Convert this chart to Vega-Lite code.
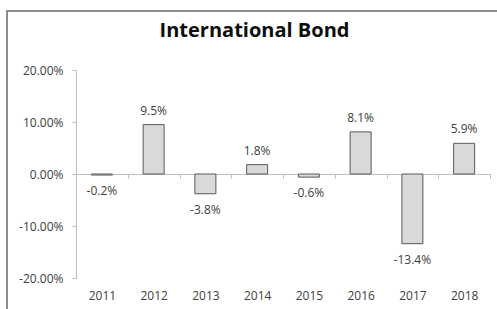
{
  "$schema": "https://vega.github.io/schema/vega-lite/v6.json",
  "autosize": {"type": "none"},
  "padding": {"left": 7, "top": 11, "right": 0, "bottom": 0},
  "width": 495,
  "height": 305,
  "background": "white",
  "config": {
    "view": {"stroke": "#8c8c8c", "strokeWidth": 2},
    "font": "Open Sans",
    "locale": {
      "number": {"decimal": ".", "thousands": ",", "grouping": [3], "currency": ["$", ""], "minus": "-"}
    }
  },
  "title": {
    "text": "International Bond",
    "font": "Open Sans",
    "fontSize": 20,
    "fontWeight": "bold",
    "color": "#0d0d0d",
    "anchor": "middle",
    "baseline": "alphabetic",
    "offset": -46
  },
  "data": {
    "values": [
      {"year": "2011", "v": -0.002},
      {"year": "2012", "v": 0.095},
      {"year": "2013", "v": -0.038},
      {"year": "2014", "v": 0.018},
      {"year": "2015", "v": -0.006},
      {"year": "2016", "v": 0.081},
      {"year": "2017", "v": -0.134},
      {"year": "2018", "v": 0.059}
    ]
  },
  "encoding": {
    "x": {
      "field": "year",
      "type": "nominal",
      "sort": null,
      "scale": {"type": "band", "range": [69, 483], "paddingInner": 0, "paddingOuter": 0},
      "axis": {
        "title": null,
        "orient": "bottom",
        "offset": -142,
        "domainColor": "#bfbfbf",
        "tickColor": "#bfbfbf",
        "tickSize": 4,
        "tickBand": "extent",
        "labelAngle": 0,
        "labelFont": "Open Sans",
        "labelFontSize": 12,
        "labelColor": "#404040",
        "labelPadding": 112,
        "grid": false
      }
    },
    "y": {
      "field": "v",
      "type": "quantitative",
      "scale": {"domain": [-0.2, 0.2], "range": [267, 59], "nice": false},
      "axis": {
        "title": null,
        "orient": "left",
        "offset": -69,
        "values": [-0.2, -0.1, 0, 0.1, 0.2],
        "format": ".2%",
        "grid": false,
        "domainColor": "#bfbfbf",
        "tickColor": "#bfbfbf",
        "tickSize": 4,
        "labelFont": "Open Sans",
        "labelFontSize": 12,
        "labelColor": "#404040",
        "labelPadding": 9
      }
    }
  },
  "layer": [
    {
      "mark": {"type": "bar", "width": 21, "fill": "#d9d9d9", "stroke": "#595959", "strokeWidth": 1}
    },
    {
      "transform": [{"filter": "datum.v >= 0"}],
      "mark": {"type": "text", "baseline": "alphabetic", "dy": -10, "font": "Open Sans", "fontSize": 12, "color": "#404040"},
      "encoding": {"text": {"field": "v", "type": "quantitative", "format": ".1%"}}
    },
    {
      "transform": [{"filter": "datum.v < 0"}],
      "mark": {"type": "text", "baseline": "alphabetic", "dy": 20, "font": "Open Sans", "fontSize": 12, "color": "#404040"},
      "encoding": {"text": {"field": "v", "type": "quantitative", "format": ".1%"}}
    }
  ]
}
